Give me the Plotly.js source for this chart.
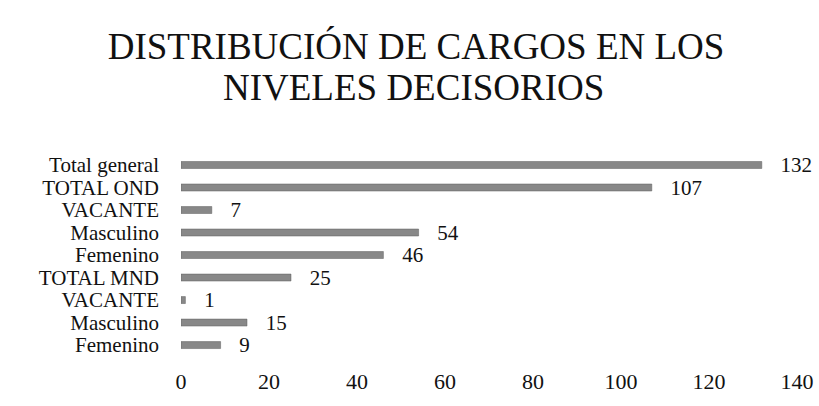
<!DOCTYPE html>
<html>
<head>
<meta charset="utf-8">
<script src="https://cdn.plot.ly/plotly-3.0.1.min.js"></script>
<style>
  html, body { margin: 0; padding: 0; background: #fff; }
  #plot { width: 819px; height: 406px; }
</style>
</head>
<body>
<div id="plot"></div>
<script>
// categories listed from bottom to top, as drawn
const categories = ['Femenino', 'Masculino', 'VACANTE', 'TOTAL MND', 'Femenino', 'Masculino', 'VACANTE', 'TOTAL OND', 'Total general'];
const values = [9, 15, 1, 25, 46, 54, 7, 107, 132];
const xTicks = [0, 20, 40, 60, 80, 100, 120, 140];

const titleLine1 = 'DISTRIBUCIÓN DE CARGOS EN LOS';
const titleLine2 = 'NIVELES DECISORIOS';

const serif = '"Times New Roman", "Liberation Serif", "DejaVu Serif", serif';
const positions = categories.map((c, i) => i);

const trace = {
  type: 'bar',
  orientation: 'h',
  x: values,
  y: positions,
  width: 0.31,
  marker: { color: '#888888', line: { color: '#5e5e5e', width: 0.5 } },
  text: values,
  texttemplate: '\u00a0\u00a0\u00a0%{x}',
  textposition: 'outside',
  constraintext: 'none',
  cliponaxis: false,
  textfont: { family: serif, size: 21, color: '#111' },
  hoverinfo: 'none'
};

const layout = {
  width: 819,
  height: 406,
  margin: { l: 181, r: 22, t: 140, b: 40 },
  paper_bgcolor: '#fff',
  plot_bgcolor: '#fff',
  showlegend: false,
  font: { family: serif, color: '#111' },
  title: {
    text: titleLine1,
    font: { family: serif, size: 37, color: '#111' },
    x: 0.508,
    xanchor: 'center',
    y: 1 - 46 / 406,
    yanchor: 'middle'
  },
  annotations: [{
    text: titleLine2,
    xref: 'paper', yref: 'paper',
    x: (413 - 181) / (819 - 181 - 22),
    y: 1 + (140 - 87) / 226,
    xanchor: 'center', yanchor: 'middle',
    showarrow: false,
    font: { family: serif, size: 37, color: '#111' }
  }],
  xaxis: {
    range: [0, 140],
    tickvals: xTicks,
    ticktext: xTicks.map(String),
    showgrid: false,
    zeroline: false,
    showline: false,
    ticks: '',
    tickfont: { family: serif, size: 22, color: '#111' },
    automargin: false,
    fixedrange: true
  },
  yaxis: {
    range: [-0.93, 9.11],
    tickvals: positions,
    ticktext: categories,
    showgrid: false,
    zeroline: false,
    showline: false,
    ticks: '',
    ticklabelstandoff: 21,
    tickfont: { family: serif, size: 21, color: '#111' },
    automargin: false,
    fixedrange: true
  }
};

Plotly.newPlot('plot', [trace], layout, { displayModeBar: false, staticPlot: true });
</script>
</body>
</html>
